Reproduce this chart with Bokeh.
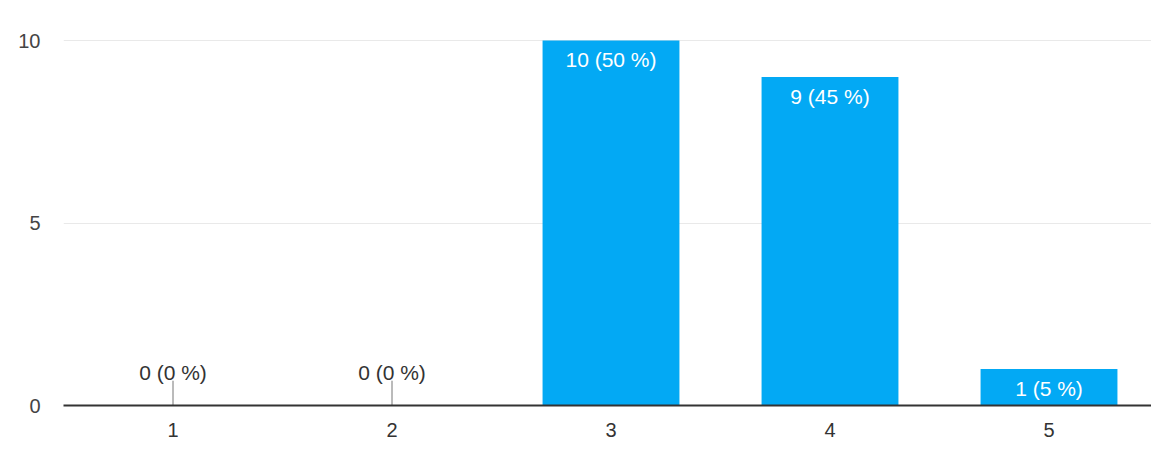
from bokeh.plotting import figure
from bokeh.models import ColumnDataSource, FixedTicker, Range1d
from bokeh.core.properties import value
from bokeh.embed import file_html
from bokeh.resources import INLINE

categories = [1, 2, 3, 4, 5]
counts = [0, 0, 10, 9, 1]
y_ticks = [0, 5, 10]

total = sum(counts)
labels = [f"{c} ({round(c / total * 100)} %)" for c in counts]
inside = [c > 0 for c in counts]

src_in = ColumnDataSource(dict(
    x=[x for x, i in zip(categories, inside) if i],
    y=[c for c, i in zip(counts, inside) if i],
    t=[t for t, i in zip(labels, inside) if i],
))
src_zero = ColumnDataSource(dict(
    x=[x for x, i in zip(categories, inside) if not i],
    y=[c for c, i in zip(counts, inside) if not i],
    t=[t for t, i in zip(labels, inside) if not i],
))

FONT = "Liberation Sans"

p = figure(width=1151, height=441, output_backend="svg", toolbar_location=None,
           x_range=Range1d(0.5, 5.468), y_range=Range1d(0, 10.88),
           min_border_left=63, min_border_right=0, min_border_top=8, min_border_bottom=36)
p.outline_line_color = None
p.background_fill_color = "white"
p.border_fill_color = "white"

p.vbar(x=categories, top=counts, width=0.625, bottom=0,
       fill_color="#03A9F4", line_color=None)

# connector ticks for empty categories
p.segment(x0="x", y0="y", x1="x", y1=0.68, source=src_zero, line_color="#777777", line_width=1)

p.text(x="x", y="y", text="t", source=src_in, text_color="white",
       text_font=value(FONT), text_font_size="21px",
       text_align="center", text_baseline="middle", y_offset=19)
p.text(x="x", y="y", text="t", source=src_zero, text_color="#333333",
       text_font=value(FONT), text_font_size="21px",
       text_align="center", text_baseline="middle", y_offset=-33)

p.xgrid.visible = False
p.ygrid.ticker = FixedTicker(ticks=y_ticks)
p.ygrid.grid_line_color = "#e9e9e9"
p.ygrid.grid_line_width = 1

xa = p.xaxis[0]
xa.ticker = FixedTicker(ticks=categories)
xa.axis_line_color = "#333333"
xa.axis_line_width = 2
xa.major_tick_line_color = None
xa.minor_tick_line_color = None
xa.major_tick_out = 0
xa.major_label_standoff = 17
xa.major_label_text_font = FONT
xa.major_label_text_font_size = "20px"
xa.major_label_text_color = "#333333"

ya = p.yaxis[0]
ya.ticker = FixedTicker(ticks=y_ticks)
ya.axis_line_color = None
ya.major_tick_line_color = None
ya.minor_tick_line_color = None
ya.major_tick_out = 0
ya.major_label_standoff = 23
ya.major_label_text_font = FONT
ya.major_label_text_font_size = "20px"
ya.major_label_text_color = "#444444"

open("out.html", "w").write(file_html(p, INLINE))
